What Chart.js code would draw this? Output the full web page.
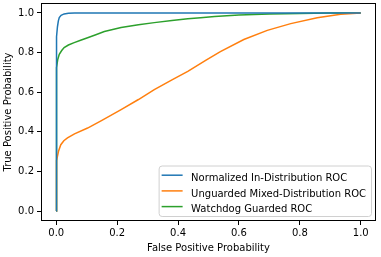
<!DOCTYPE html>
<html>
<head>
<meta charset="utf-8">
<script src="https://cdn.jsdelivr.net/npm/chart.js@4/dist/chart.umd.min.js"></script>
<style>
html,body{margin:0;padding:0;background:#fff;}
#wrap{width:381px;height:257px;}
</style>
</head>
<body>
<div id="wrap"><canvas id="c" width="381" height="257"></canvas></div>
<script>
// ---- data ----
const seriesLabels = ["Normalized In-Distribution ROC", "Unguarded Mixed-Distribution ROC", "Watchdog Guarded ROC"];
const seriesColors = ["#1f77b4", "#ff7f0e", "#2ca02c"];

const blueFpr = [0, 0, 0.001, 0.002, 0.004, 0.007, 0.010, 0.016, 0.026, 0.040, 0.060, 0.100, 0.300, 1.0];
const blueTpr = [0, 0.60, 0.80, 0.88, 0.93, 0.96, 0.976, 0.988, 0.995, 0.998, 0.999, 1.0, 1.0, 1.0];

const orangeFpr = [0, 0, 0.001, 0.002, 0.004, 0.008, 0.015, 0.025, 0.037, 0.060, 0.103, 0.150, 0.213, 0.270, 0.322, 0.380, 0.432, 0.492, 0.539, 0.616, 0.693, 0.770, 0.857, 0.934, 1.0];
const orangeTpr = [0, 0.15, 0.22, 0.255, 0.276, 0.305, 0.335, 0.355, 0.369, 0.390, 0.419, 0.458, 0.512, 0.563, 0.613, 0.662, 0.705, 0.762, 0.805, 0.866, 0.912, 0.946, 0.976, 0.993, 1.0];

const greenFpr = [0, 0, 0.001, 0.002, 0.005, 0.010, 0.018, 0.026, 0.040, 0.059, 0.080, 0.103, 0.130, 0.158, 0.213, 0.270, 0.322, 0.380, 0.432, 0.474, 0.520, 0.600, 0.700, 0.800, 0.900, 1.0];
const greenTpr = [0, 0.60, 0.70, 0.724, 0.765, 0.791, 0.810, 0.825, 0.838, 0.850, 0.862, 0.875, 0.890, 0.906, 0.926, 0.940, 0.951, 0.962, 0.971, 0.976, 0.982, 0.989, 0.994, 0.997, 0.999, 1.0];

const xTicks = [0.0, 0.2, 0.4, 0.6, 0.8, 1.0];
const yTicks = [0.0, 0.2, 0.4, 0.6, 0.8, 1.0];
const xTitle = "False Positive Probability";
const yTitle = "True Positive Probability";

// ---- build ----
function pts(xs, ys){ return xs.map((x,i)=>({x:x, y:ys[i]})); }
const fprs = [blueFpr, orangeFpr, greenFpr];
const tprs = [blueTpr, orangeTpr, greenTpr];

Chart.defaults.font.family = "'DejaVu Sans', sans-serif";
Chart.defaults.font.size = 10;
Chart.defaults.color = "#000";

const FONT = "10px 'DejaVu Sans', sans-serif";

const framePlugin = {
  id: 'frame',
  afterDatasetsDraw(chart){
    const ca = chart.chartArea, ctx = chart.ctx;
    ctx.save();
    ctx.strokeStyle = '#000';
    ctx.lineWidth = 1;
    ctx.strokeRect(Math.round(ca.left)+0.5, Math.round(ca.top)+0.5, Math.round(ca.right-ca.left)-1, Math.round(ca.bottom-ca.top)-1);
    ctx.restore();
  }
};

const legendPlugin = {
  id: 'mplLegend',
  afterDraw(chart){
    const ca = chart.chartArea, ctx = chart.ctx;
    ctx.save();
    ctx.font = FONT;
    const labels = chart.data.datasets.map(d=>d.label);
    const maxW = Math.max(...labels.map(l=>ctx.measureText(l).width));
    const right = ca.right - 5;
    const bottom = ca.bottom - 5;
    const w = 3 + 21 + 8.5 + maxW + 5;
    const h = 50.5;
    const left = right - w, top = bottom - h;
    ctx.beginPath();
    if (ctx.roundRect) ctx.roundRect(left+0.5, top+0.5, w, h, 3); else ctx.rect(left+0.5, top+0.5, w, h);
    ctx.fillStyle = 'rgba(255,255,255,0.8)';
    ctx.fill();
    ctx.strokeStyle = '#d0d0d0';
    ctx.lineWidth = 1;
    ctx.stroke();
    chart.data.datasets.forEach((d,i)=>{
      const hy = top + 9.7 + i*15.7;
      ctx.beginPath();
      ctx.strokeStyle = d.borderColor;
      ctx.lineWidth = 1.5;
      ctx.moveTo(left+3, hy);
      ctx.lineTo(left+24, hy);
      ctx.stroke();
      ctx.fillStyle = '#000';
      ctx.textBaseline = 'alphabetic';
      ctx.textAlign = 'left';
      ctx.fillText(d.label, left + 32.5, top + 15.5 + i*15.7);
    });
    ctx.restore();
  }
};

new Chart(document.getElementById('c'), {
  type: 'scatter',
  data: {
    datasets: seriesLabels.map((lab,i)=>({
      label: lab,
      data: pts(fprs[i], tprs[i]),
      showLine: true,
      borderColor: seriesColors[i],
      backgroundColor: seriesColors[i],
      borderWidth: 1.5,
      pointRadius: 0,
      pointHoverRadius: 0,
      tension: 0
    }))
  },
  options: {
    responsive: false,
    animation: false,
    devicePixelRatio: 1,
    layout: { padding: { top: 3, right: 5, left: 0, bottom: 0 } },
    plugins: { legend: { display: false }, tooltip: { enabled: false } },
    scales: {
      x: {
        type: 'linear',
        min: -0.05, max: 1.05,
        afterBuildTicks(scale){ scale.ticks = xTicks.map(v=>({value:v})); },
        afterFit(scale){ scale.height = 36; scale.paddingLeft = 0; scale.paddingRight = 0; },
        ticks: { callback: v => Number(v).toFixed(1), padding: 2, maxRotation: 0, autoSkip: false, color: '#000', font: {size: 10} },
        grid: { display: true, drawOnChartArea: false, drawTicks: true, tickLength: 4, tickColor: '#000', tickWidth: 1 },
        border: { display: false },
        title: { display: true, text: xTitle, color: '#000', font: {size: 10}, padding: { top: 0, bottom: 3 } }
      },
      y: {
        type: 'linear',
        min: -0.05, max: 1.05,
        afterBuildTicks(scale){ scale.ticks = yTicks.map(v=>({value:v})); },
        afterFit(scale){ scale.width = 41; scale.paddingTop = 0; scale.paddingBottom = 0; },
        ticks: { callback: v => Number(v).toFixed(1), padding: 3, autoSkip: false, color: '#000', font: {size: 10} },
        grid: { display: true, drawOnChartArea: false, drawTicks: true, tickLength: 4, tickColor: '#000', tickWidth: 1 },
        border: { display: false },
        title: { display: true, text: yTitle, color: '#000', font: {size: 10}, padding: { top: 2, bottom: 0 } }
      }
    }
  },
  plugins: [framePlugin, legendPlugin]
});
</script>
</body>
</html>
